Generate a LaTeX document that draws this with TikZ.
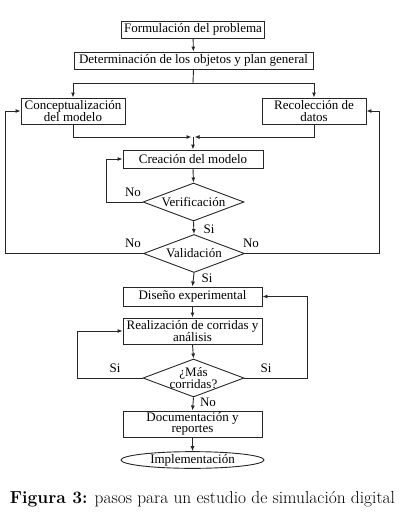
\documentclass[tikz,border=0pt]{standalone}
\usepackage{fontspec}
\newfontfamily\boxfont{Liberation Serif}
\usetikzlibrary{shapes.geometric,arrows.meta}
\begin{document}
\begin{tikzpicture}[x=1pt,y=-1pt,
  every node/.style={font=\boxfont\fontsize{13}{12.5}\selectfont},
  box/.style={draw=black!85,line width=0.9pt,rectangle,inner sep=0pt,align=center},
  dia/.style={draw=black!85,line width=0.9pt,diamond,inner sep=0pt,minimum width=101pt,minimum height=38pt},
  ell/.style={draw=black!85,line width=0.9pt,ellipse,inner sep=0pt,minimum width=143pt,minimum height=16pt},
  conn/.style={draw=black!85,line width=0.9pt},
  arr/.style={conn,-{Latex[length=5pt,width=4pt]}},
  lab/.style={inner sep=0pt}]
\useasboundingbox (0,0) rectangle (408,528);
\node[box,minimum width=143pt,minimum height=17pt] (form) at (193,29.5) {Formulación del problema};
\node[box,minimum width=239pt,minimum height=17pt] (det) at (193.5,60.5) {Determinación de los objetos y plan general};
\node[box,minimum width=104pt,minimum height=26pt] (conc) at (73,111) {Conceptualización\\[-1pt]del modelo};
\node[box,minimum width=104pt,minimum height=26pt] (rec) at (314,111) {Recolección de\\[-1pt]datos};
\node[box,minimum width=140pt,minimum height=18pt] (crea) at (193,159) {Creación del modelo};
\node[dia] (ver) at (193.5,202) {};
\node[lab] (vert) at (ver) {Verificación};
\node[dia] (val) at (194,253.5) {};
\node[lab] (valt) at (val) {Validación};
\node[box,minimum width=139pt,minimum height=19pt] (dis) at (192.5,296.5) {Diseño experimental};
\node[box,minimum width=139pt,minimum height=26pt] (real) at (192.5,331) {Realización de corridas y\\[-1pt]análisis};
\node[dia] (mas) at (193.5,378) {};
\node[lab,align=center] (mast) at (mas) {¿Más\\[-1pt]corridas?};
\node[box,minimum width=139pt,minimum height=26pt] (doc) at (192.5,424) {Documentación y\\[-1pt]reportes};
\node[ell] (impl) at (192.5,460) {Implementación};
% connectors
\coordinate (j1) at (193,83);
\coordinate (j2) at (193,137);
\draw[arr] (form) -- (det);
\draw[conn] (det.south) -- (j1);
\draw[arr] (j1) -| (conc.north);
\draw[arr] (j1) -| (rec.north);
\draw[arr] (conc.south) |- ([xshift=-1.5pt]j2);
\draw[arr] (rec.south) |- ([xshift=1.5pt]j2);
\draw[arr] (j2) -- (crea.north);
\draw[arr] (crea.south) -- (ver.north);
\coordinate (vl) at (106,202);
\draw[arr] (ver.west) -- (vl) |- (crea.west);
\draw[arr] (ver.south) -- (val.north);
\coordinate (vall) at (5,253.5);
\coordinate (valr) at (379,253.5);
\draw[arr] (val.west) -- (vall) |- (conc.west);
\draw[arr] (val.east) -- (valr) |- (rec.east);
\draw[arr] (val.south) -- (dis.north);
\draw[arr] (dis.south) -- (real.north);
\draw[arr] (real.south) -- (mas.north);
\coordinate (ml) at (77,378);
\coordinate (mr) at (307,378);
\draw[arr] (mas.west) -- (ml) |- (real.west);
\draw[arr] (mas.east) -- (mr) |- (dis.east);
\draw[arr] (mas.south) -- (doc.north);
\draw[arr] (doc.south) -- (impl.north);
% labels
\node[lab] (l1) at (133,192) {No};
\node[lab] (l2) at (209,229) {Si};
\node[lab] (l3) at (133,243) {No};
\node[lab] (l4) at (251,243) {No};
\node[lab] (l5) at (207,278) {Si};
\node[lab] (l6) at (115,368) {Si};
\node[lab] (l7) at (266,368) {Si};
\node[lab] (l8) at (208,402) {No};
\node[inner sep=0pt,font=\fontsize{17.4}{19}\selectfont] (cap) at (202.5,499) {\textbf{Figura 3:} pasos para un estudio de simulación digital};
\end{tikzpicture}
\end{document}
